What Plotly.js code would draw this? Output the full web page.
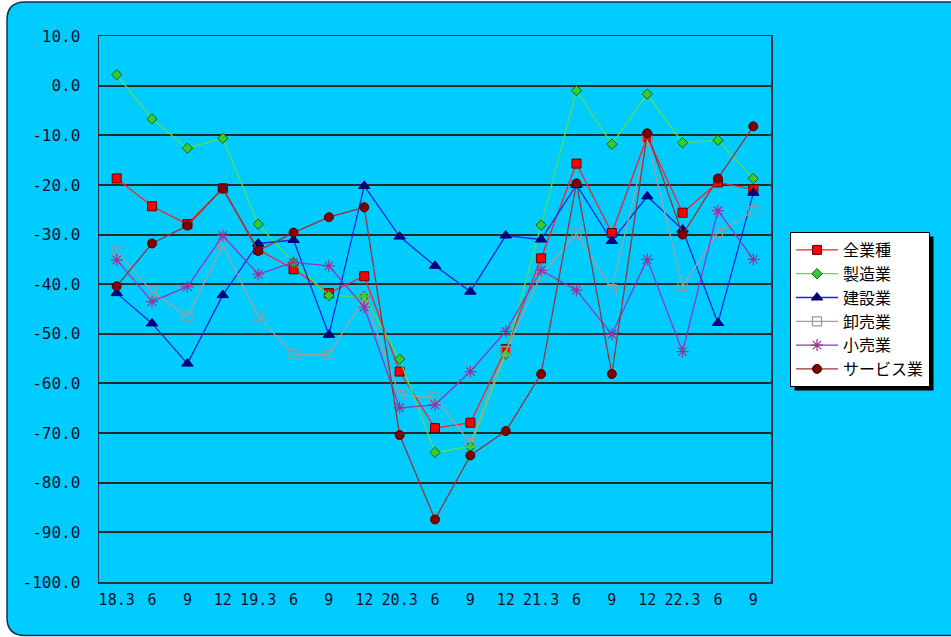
<!DOCTYPE html>
<html>
<head>
<meta charset="utf-8">
<script src="https://cdn.plot.ly/plotly-3.0.1.min.js"></script>
<style>html,body{margin:0;padding:0;background:#fff;}#chart{width:951px;height:637px;}</style>
</head>
<body>
<div id="chart"></div>
<script>
const categories = ["18.3","6","9","12","19.3","6","9","12","20.3","6","9","12","21.3","6","9","12","22.3","6","9"];
const seriesNames = ["全業種","製造業","建設業","卸売業","小売業","サービス業"];
const allIndustries = [-18.7,-24.3,-27.9,-20.7,-33.0,-37.0,-41.8,-38.4,-57.6,-69.0,-67.9,-53.1,-34.8,-15.7,-29.7,-10.3,-25.6,-19.5,-20.9];
const manufacturing = [2.2,-6.7,-12.6,-10.6,-27.9,-35.7,-42.3,-42.5,-55.1,-73.9,-72.7,-54.1,-28.1,-1.0,-11.8,-1.7,-11.5,-11.0,-18.7];
const construction = [-41.8,-47.9,-56.0,-42.2,-31.8,-31.1,-50.2,-20.2,-30.4,-36.3,-41.5,-30.2,-31.0,-20.0,-31.3,-22.3,-29.0,-47.8,-21.6];
const wholesale = [-33.4,-41.5,-46.5,-32.1,-46.5,-54.2,-54.2,-42.7,-62.3,-62.8,-72.0,-53.5,-38.2,-29.8,-41.0,-11.0,-40.4,-29.5,-25.3];
const retail = [-35.1,-43.5,-40.5,-30.2,-38.0,-35.6,-36.3,-44.6,-64.9,-64.3,-57.6,-49.5,-37.2,-41.2,-50.1,-35.0,-53.6,-25.2,-35.0];
const services = [-40.4,-31.8,-28.2,-20.7,-33.3,-29.6,-26.5,-24.5,-70.4,-87.4,-74.5,-69.6,-58.1,-19.7,-58.1,-9.6,-30.0,-18.7,-8.2];
const yTicks = [10,0,-10,-20,-30,-40,-50,-60,-70,-80,-90,-100];

const W = 951, H = 637;
const M = {l: 99, r: 180, t: 36, b: 55};
const pw = W - M.l - M.r, ph = H - M.t - M.b;
const px = v => (v - M.l) / pw;
const py = v => (H - M.b - v) / ph;

const xIdx = categories.map((c, i) => i);

const styles = [
  {line: '#ff2020', marker: {symbol: 'square', size: 9, color: '#ff0000', line: {color: '#600000', width: 1}}},
  {line: '#55dd55', marker: {symbol: 'diamond', size: 8, color: '#33cc33', line: {color: '#106010', width: 1}}},
  {line: '#2222dd', marker: {symbol: 'triangle-up', size: 10, color: '#000080', line: {color: '#000060', width: 1}}},
  {line: '#a0a0a0', marker: {symbol: 'square-open', size: 9, color: '#999999', line: {color: '#999999', width: 1.2}}},
  {line: '#9933bb', marker: {symbol: 'asterisk-open', size: 10, color: '#993399', line: {color: '#993399', width: 1.2}}},
  {line: '#993333', marker: {symbol: 'circle', size: 9, color: '#800000', line: {color: '#500000', width: 1}}}
];
const data = [allIndustries, manufacturing, construction, wholesale, retail, services];

const traces = data.map((ys, i) => ({
  type: 'scatter', mode: 'lines+markers', name: seriesNames[i],
  x: xIdx, y: ys,
  line: {color: styles[i].line, width: 1.3},
  marker: styles[i].marker
}));

const L = px(7), T = py(2), R = px(960), B = py(635.5);
const rx = 18 / pw, ry = 18 / ph;
const framePath = `M ${L+rx},${T} L ${R},${T} L ${R},${B} L ${L+rx},${B} Q ${L},${B} ${L},${B+ry} L ${L},${T-ry} Q ${L},${T} ${L+rx},${T} Z`;

const yFont = {size: 16, family: 'DejaVu Sans Mono, monospace', color: '#101030'};
const xFont = {size: 15, family: 'DejaVu Sans Mono, monospace', color: '#101030'};

const layout = {
  width: W, height: H,
  margin: M,
  paper_bgcolor: '#ffffff',
  plot_bgcolor: '#ffffff',
  showlegend: true,
  font: {family: 'DejaVu Sans Mono, monospace', color: '#101030'},
  xaxis: {
    range: [-0.5, categories.length - 0.5],
    tickmode: 'array', tickvals: xIdx, ticktext: categories,
    showgrid: false, zeroline: false,
    showline: true, linecolor: '#303040', linewidth: 1.5, mirror: true,
    ticks: '', ticklabelstandoff: 3, tickfont: xFont,
    fixedrange: true
  },
  yaxis: {
    range: [-100, 10],
    tickmode: 'array', tickvals: yTicks, ticktext: yTicks.map(v => v.toFixed(1)),
    showgrid: true, gridcolor: '#2a2a2a', gridwidth: 2,
    zeroline: false,
    showline: true, linecolor: '#303040', linewidth: 1.5, mirror: true,
    ticks: '', ticklabelstandoff: 14,
    tickfont: yFont,
    fixedrange: true
  },
  legend: {
    x: px(790), y: py(232), xanchor: 'left', yanchor: 'top',
    bgcolor: '#ffffff', bordercolor: '#000000', borderwidth: 1,
    font: {family: 'Noto Sans CJK JP, sans-serif', size: 16, color: '#000000'},
    tracegroupgap: 0, itemwidth: 42
  },
  shapes: [
    {type: 'path', xref: 'paper', yref: 'paper', path: framePath,
     fillcolor: '#00ccff', line: {color: '#103050', width: 1.5}, layer: 'below'}
  ]
};

Plotly.newPlot('chart', traces, layout, {displayModeBar: false, staticPlot: true}).then(gd => {
  const bg = gd.querySelector('.legend .bg');
  if (!bg) return;
  const r = bg.getBoundingClientRect();
  const c = gd.getBoundingClientRect();
  const x0 = r.left - c.left + 4, y0 = r.top - c.top + 4;
  const x1 = r.right - c.left + 4, y1 = r.bottom - c.top + 4;
  const shapes = layout.shapes.concat([{type: 'rect', xref: 'paper', yref: 'paper',
    x0: px(x0), x1: px(x1), y0: py(y0), y1: py(y1),
    fillcolor: '#000000', line: {width: 0}, layer: 'above'}]);
  return Plotly.relayout(gd, {shapes: shapes});
});
</script>
</body>
</html>
